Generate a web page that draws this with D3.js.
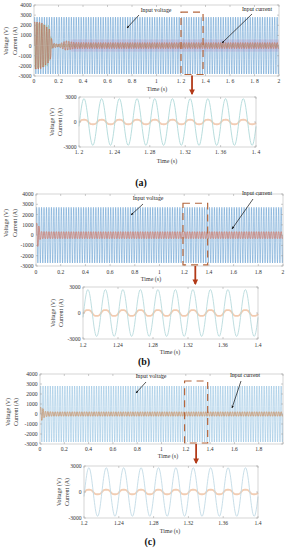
<!DOCTYPE html>
<html>
<head>
<meta charset="utf-8">
<script src="https://cdn.jsdelivr.net/npm/d3@7"></script>
<style>
  body { margin: 0; background: #fff; }
  svg { display: block; font-family: "Liberation Serif", "DejaVu Serif", serif; }
</style>
</head>
<body>
<svg id="fig" width="285" height="550"></svg>
<script>
// grid frequency of the simulated supply (Hz)
var freq = 50;

// tick labels
var mainTicks = [0, 0.2, 0.4, 0.6, 0.8, 1, 1.2, 1.4, 1.6, 1.8, 2];
var mainYTicks = [4000, 3000, 2000, 1000, 0, -1000, -2000, -3000];
var zoomTicks = [1.2, 1.24, 1.28, 1.32, 1.36, 1.4];
var zoomYTicks = [3000, 0, -3000];
var captions = ['(a)', '(b)', '(c)'];

// voltage peak
var voltagePeak = [2800, 2700, 2800];

// current envelope [time, peak]
var currentEnvA = [[0, 2700], [0.06, 2600], [0.13, 1800], [0.15, 300], [0.2, 150], [0.26, 550], [0.33, 350], [0.45, 330], [2, 330]];
var currentEnvB = [[0, 1400], [0.02, 1200], [0.035, 400], [0.1, 380], [2, 380]];
var currentEnvC = [[0, 800], [0.02, 700], [0.04, 300], [0.1, 250], [2, 250]];
// second (green) trace only visible in the start-up transient of (a)
var greenEnvA = [[0, 2300], [0.12, 2000], [0.15, 150], [0.3, 120], [2, 100]];

// current peak in the zoomed window
var zoomCurrentPeak = [300, 370, 290];

var svg = d3.select('#fig');

var panels = [
  {
    main: { x: [34, 279], y: [76, 5], tickY: 83, timeY: 91, timeX: 157, labX: [8, 17], labY: 41 },
    zoom: { x: [79, 256], y: [147, 97], tickY: 154, timeY: 163, timeX: 167, labX: [54, 62], labY: 122 },
    capY: 186, capX: 141,
    vColor: '#5d9bd0', cColor: '#cc5a2a', zColorV: '#b0d9d9', zColorC: '#f2cdb5',
    env: currentEnvA, green: greenEnvA, band: true,
    box: [1.2, 1.38, -2850, 3300],
    vNote: { text: 'Input voltage', tx: 156, ty: 12, from: [139, 15], to: [127, 28] },
    iNote: { text: 'Input current', tx: 257, ty: 11, from: [252, 14], to: [222, 43] },
    spaced: true
  },
  {
    main: { x: [36, 283], y: [266, 194], tickY: 274, timeY: 281, timeX: 151, labX: [8, 17], labY: 223 },
    zoom: { x: [83, 258], y: [339, 287], tickY: 347, timeY: 354, timeX: 170, labX: [55, 63], labY: 313 },
    capY: 365, capX: 144,
    vColor: '#5d9bd0', cColor: '#e0542e', zColorV: '#b8dadc', zColorC: '#f2cbb0',
    env: currentEnvB, green: null, band: false,
    box: [1.19, 1.39, -2900, 3100],
    vNote: { text: 'Input voltage', tx: 148, ty: 200, from: [143, 204], to: [131, 215] },
    iNote: { text: 'Input current', tx: 257, ty: 195, from: [253, 199], to: [232, 229] },
    spaced: false
  },
  {
    main: { x: [40, 283], y: [444, 374], tickY: 451, timeY: 458, timeX: 168, labX: [10, 18], labY: 412 },
    zoom: { x: [84, 258], y: [518, 466], tickY: 525, timeY: 533, timeX: 170, labX: [61, 69], labY: 492 },
    capY: 545, capX: 150,
    vColor: '#8fbfe0', cColor: '#c8702a', zColorV: '#c2dae5', zColorC: '#f2cdb3',
    env: currentEnvC, green: null, band: false,
    box: [1.19, 1.38, -2900, 3300],
    vNote: { text: 'Input voltage', tx: 151, ty: 378, from: [146, 382], to: [136, 393] },
    iNote: { text: 'Input current', tx: 245, ty: 377, from: [241, 381], to: [232, 408] },
    spaced: false,
    skipLast: true
  }
];

// arrow heads
var defs = svg.append('defs');
defs.append('marker').attr('id', 'headBlack')
    .attr('viewBox', '0 0 10 10').attr('refX', 9).attr('refY', 5)
    .attr('markerWidth', 4).attr('markerHeight', 4).attr('orient', 'auto')
  .append('path').attr('d', 'M0,1 L10,5 L0,9 Z').attr('fill', '#111');
defs.append('marker').attr('id', 'headRed')
    .attr('viewBox', '0 0 10 10').attr('refX', 8).attr('refY', 5)
    .attr('markerWidth', 3.2).attr('markerHeight', 3.2).attr('orient', 'auto')
  .append('path').attr('d', 'M0,0 L10,5 L0,10 Z').attr('fill', '#b23a18');

function envelope(env, t) {
  for (var i = 1; i < env.length; i++) {
    if (t <= env[i][0]) {
      var a = env[i - 1], b = env[i];
      return a[1] + (b[1] - a[1]) * (t - a[0]) / (b[0] - a[0]);
    }
  }
  return env[env.length - 1][1];
}

function fmt(v, spaced) {
  var s = String(v);
  return spaced ? s.replace('.', '. ') : s;
}

function frame(g, x, y, xt, yt, top) {
  var x0 = x.range()[0], x1 = x.range()[1], y0 = y.range()[1], y1 = y.range()[0];
  g.append('rect').attr('x', x0).attr('y', y0).attr('width', x1 - x0).attr('height', y1 - y0)
      .attr('fill', 'none').attr('stroke', '#b8b8b8').attr('stroke-width', 0.6);
  xt.forEach(function(t) {
    g.append('line').attr('x1', x(t)).attr('x2', x(t)).attr('y1', y1).attr('y2', y1 - 2)
        .attr('stroke', '#9a9a9a').attr('stroke-width', 0.5);
    if (top) g.append('line').attr('x1', x(t)).attr('x2', x(t)).attr('y1', y0).attr('y2', y0 + 2)
        .attr('stroke', '#9a9a9a').attr('stroke-width', 0.5);
  });
  yt.forEach(function(t) {
    g.append('line').attr('x1', x0).attr('x2', x0 + 2).attr('y1', y(t)).attr('y2', y(t))
        .attr('stroke', '#9a9a9a').attr('stroke-width', 0.5);
    g.append('line').attr('x1', x1).attr('x2', x1 - 2).attr('y1', y(t)).attr('y2', y(t))
        .attr('stroke', '#9a9a9a').attr('stroke-width', 0.5);
  });
}

function labels(g, x, y, xt, yt, m, spaced, skipLast) {
  var x0 = x.range()[0];
  xt.forEach(function(t, i) {
    if (skipLast && i === xt.length - 1) return;
    g.append('text').attr('x', x(t)).attr('y', m.tickY).attr('text-anchor', 'middle')
        .attr('font-size', 5.6).attr('fill', '#333').text(fmt(t, spaced));
  });
  yt.forEach(function(t) {
    g.append('text').attr('x', x0 - 2.5).attr('y', y(t) + 2).attr('text-anchor', 'end')
        .attr('font-size', 5.6).attr('fill', '#333').text(t);
  });
  g.append('text').attr('x', m.timeX).attr('y', m.timeY).attr('text-anchor', 'middle')
      .attr('font-size', 6).attr('fill', '#333').text('Time (s)');
  ['Voltage (V)', 'Current (A)'].forEach(function(s, i) {
    g.append('text').attr('transform', 'translate(' + m.labX[i] + ',' + m.labY + ') rotate(-90)')
        .attr('text-anchor', 'middle').attr('font-size', 6).attr('fill', '#333').text(s);
  });
}

panels.forEach(function(p, k) {
  var g = svg.append('g');
  var x = d3.scaleLinear().domain([0, 2]).range(p.main.x);
  var y = d3.scaleLinear().domain([-3000, 4000]).range(p.main.y);
  var clipId = 'clip' + k;
  defs.append('clipPath').attr('id', clipId).append('rect')
      .attr('x', p.main.x[0]).attr('y', p.main.y[1])
      .attr('width', p.main.x[1] - p.main.x[0]).attr('height', p.main.y[0] - p.main.y[1]);

  var n = 100 * 24;
  var ts = d3.range(n + 1).map(function(i) { return 2 * i / n; });
  var line = d3.line().x(function(d) { return x(d[0]); }).y(function(d) { return y(d[1]); });
  var plot = g.append('g').attr('clip-path', 'url(#' + clipId + ')');

  if (p.band) {
    plot.append('rect').attr('x', x(0.3)).attr('width', x(2) - x(0.3))
        .attr('y', y(600)).attr('height', y(-600) - y(600))
        .attr('fill', '#f7c4dc').attr('opacity', 0.6);
  }

  var vData = ts.map(function(t) { return [t, voltagePeak[k] * Math.sin(2 * Math.PI * freq * t)]; });
  plot.append('path').datum(vData).attr('d', line)
      .attr('fill', 'none').attr('stroke', p.vColor).attr('stroke-width', 0.55);

  if (p.green) {
    var gData = ts.map(function(t) { return [t, envelope(p.green, t) * Math.sin(2 * Math.PI * freq * t + 2.1)]; });
    plot.append('path').datum(gData).attr('d', line)
        .attr('fill', 'none').attr('stroke', '#6a9a4a').attr('stroke-width', 0.3).attr('opacity', 0.8);
  }
  var cData = ts.map(function(t) {
    var w = 2 * Math.PI * freq * t;
    return [t, envelope(p.env, t) * (Math.sin(w) + 0.15 * Math.sin(3 * w))];
  });
  plot.append('path').datum(cData).attr('d', line)
      .attr('fill', 'none').attr('stroke', p.cColor).attr('stroke-width', 0.5);

  frame(g, x, y, mainTicks, mainYTicks, true);
  labels(g, x, y, mainTicks, mainYTicks, p.main, p.spaced, p.skipLast);

  // dashed zoom window
  var b = p.box;
  g.append('rect').attr('x', x(b[0])).attr('y', y(b[3]))
      .attr('width', x(b[1]) - x(b[0])).attr('height', y(b[2]) - y(b[3]))
      .attr('fill', 'none').attr('stroke', '#b4663c').attr('stroke-width', 1.2)
      .attr('stroke-dasharray', '7,5');

  // annotations
  [p.vNote, p.iNote].forEach(function(a) {
    g.append('text').attr('x', a.tx).attr('y', a.ty).attr('text-anchor', 'middle')
        .attr('font-size', 5.8).attr('fill', '#222').text(a.text);
    g.append('line').attr('x1', a.from[0]).attr('y1', a.from[1]).attr('x2', a.to[0]).attr('y2', a.to[1])
        .attr('stroke', '#111').attr('stroke-width', 0.7).attr('marker-end', 'url(#headBlack)');
  });

  // zoomed view
  var zx = d3.scaleLinear().domain([1.2, 1.4]).range(p.zoom.x);
  var zy = d3.scaleLinear().domain([-3000, 3000]).range(p.zoom.y);
  var bx = (x(b[0]) + x(b[1])) / 2;
  g.append('line').attr('x1', bx).attr('x2', bx).attr('y1', y(b[2]) + 1).attr('y2', p.zoom.y[1] - 3)
      .attr('stroke', '#b23a18').attr('stroke-width', 1.8).attr('marker-end', 'url(#headRed)');

  var zn = 10 * 40;
  var zts = d3.range(zn + 1).map(function(i) { return 1.2 + 0.2 * i / zn; });
  var zline = d3.line().x(function(d) { return zx(d[0]); }).y(function(d) { return zy(d[1]); });
  var zv = zts.map(function(t) { return [t, voltagePeak[k] * Math.cos(2 * Math.PI * freq * (t - 1.2056))]; });
  var zc = zts.map(function(t) {
    var w = 2 * Math.PI * freq * (t - 1.2056);
    return [t, zoomCurrentPeak[k] * (Math.cos(w) - 0.1 * Math.cos(3 * w))];
  });
  g.append('path').datum(zc).attr('d', zline)
      .attr('fill', 'none').attr('stroke', p.zColorC).attr('stroke-width', 1.8);
  g.append('path').datum(zv).attr('d', zline)
      .attr('fill', 'none').attr('stroke', p.zColorV).attr('stroke-width', 0.9);

  frame(g, zx, zy, zoomTicks, zoomYTicks, true);
  labels(g, zx, zy, zoomTicks, zoomYTicks, p.zoom, p.spaced, false);

  g.append('text').attr('x', p.capX).attr('y', p.capY).attr('text-anchor', 'middle')
      .attr('font-size', 10).attr('font-weight', 'bold').attr('fill', '#111').text(captions[k]);
});
</script>
</body>
</html>
